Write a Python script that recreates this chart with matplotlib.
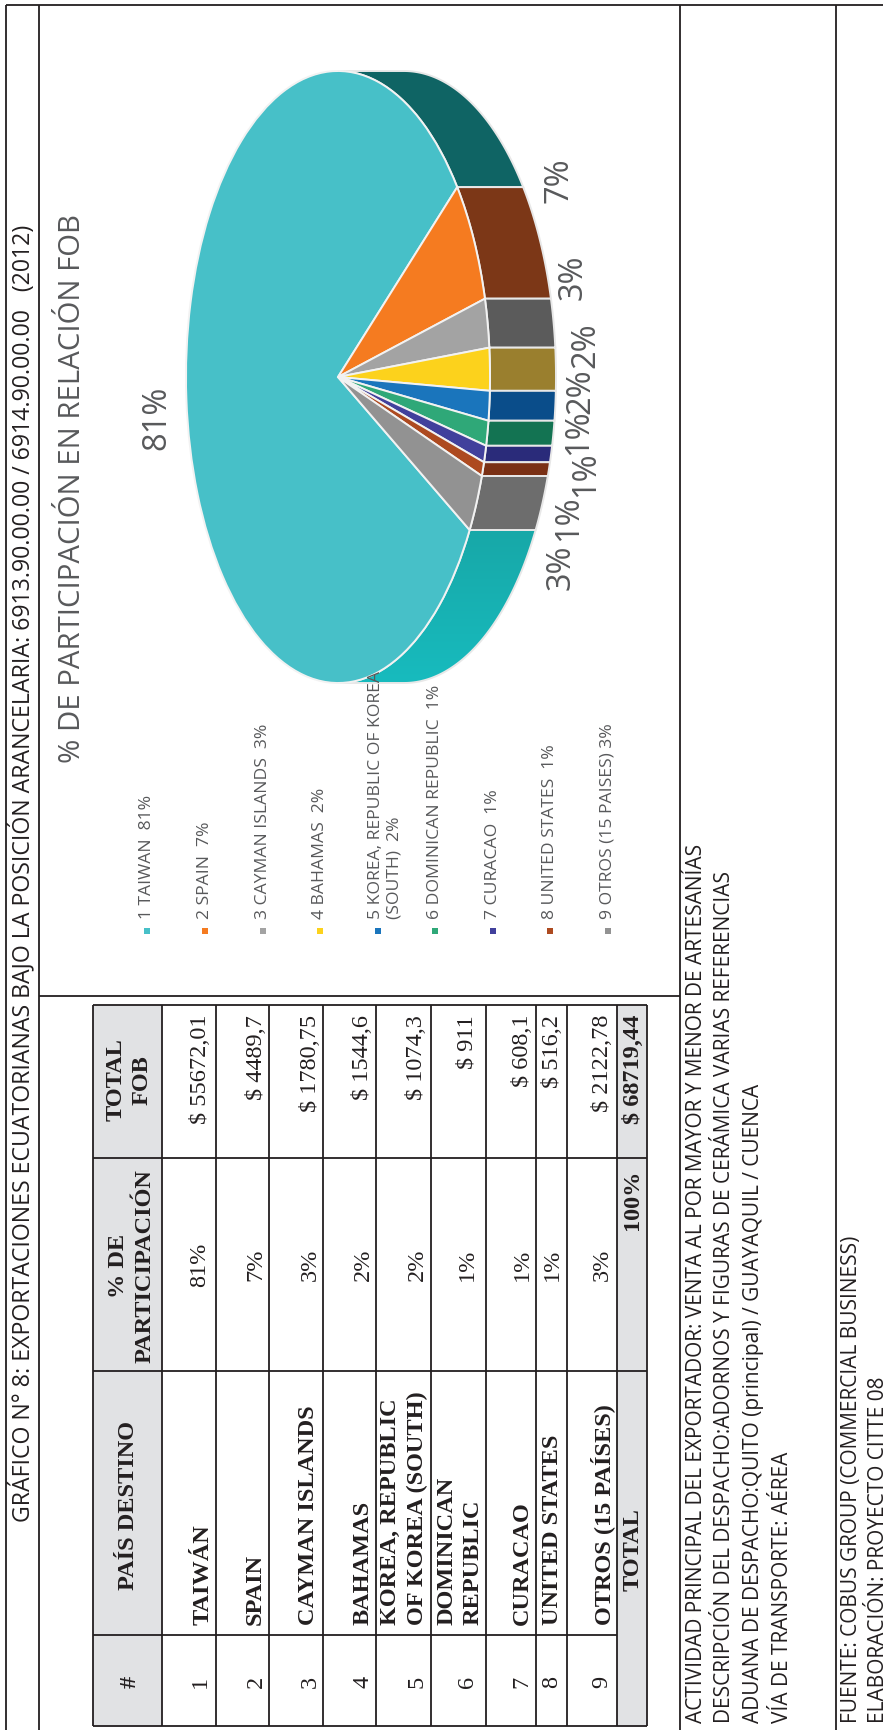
import numpy as np
import matplotlib
matplotlib.use("Agg")
import matplotlib.pyplot as plt
from matplotlib.patches import Polygon, Rectangle
from matplotlib.colors import LinearSegmentedColormap

W, H = 883, 1731
countries_legend = ["1 TAIWAN  81%", "2 SPAIN  7%", "3 CAYMAN ISLANDS  3%", "4 BAHAMAS  2%",
                    "5 KOREA, REPUBLIC OF KOREA\n(SOUTH)  2%", "6 DOMINICAN REPUBLIC  1%",
                    "7 CURACAO  1%", "8 UNITED STATES  1%", "9 OTROS (15 PAISES) 3%"]
fob = [55672.01, 4489.7, 1780.75, 1544.6, 1074.3, 911, 608.1, 516.2, 2122.78]
fob_txt = ["$ 55672,01", "$ 4489,7", "$ 1780,75", "$ 1544,6", "$ 1074,3", "$ 911", "$ 608,1", "$ 516,2", "$ 2122,78"]
pct_txt = ["81%", "7%", "3%", "2%", "2%", "1%", "1%", "1%", "3%"]
table_names = ["TAIWÁN", "SPAIN", "CAYMAN ISLANDS", "BAHAMAS", "KOREA, REPUBLIC\nOF KOREA (SOUTH)",
               "DOMINICAN\nREPUBLIC", "CURACAO", "UNITED STATES", "OTROS (15 PAÍSES)"]
top_colors = ["#47C0C8", "#F57B20", "#A3A3A3", "#FCD21C", "#1A75BC", "#2FA878", "#41409C", "#AD4A20", "#929292"]
rim_colors = ["#15AEB0", "#7C3717", "#5B5B5B", "#9A7F2E", "#0A4D8A", "#137352", "#2A2B7A", "#7A3015", "#6D6D6D"]
legend_colors = top_colors

SANS = "Open Sans"
SERIF = "Liberation Serif"
GREY = "#58595B"
INK = "#231F20"
TS = 17.5
LS = 1.32

fig = plt.figure(figsize=(W / 100, H / 100), dpi=100)
ax = fig.add_axes([0, 0, 1, 1], zorder=5)
ax.set_xlim(0, W)
ax.set_ylim(H, 0)
ax.axis("off")


def vtext(x, y, s, size, family=SANS, color=INK, weight="normal", va="bottom", ha="center", ma="left", ls=1.0):
    ax.text(x, y, s, rotation=90, fontsize=size, family=family, color=color, weight=weight,
            va=va, ha=ha, linespacing=ls, multialignment=ma)


def seg(x0, y0, x1, y1, lw=1.3, c="#231F20"):
    ax.plot([x0, x1], [y0, y1], color=c, lw=lw, solid_capstyle="butt")


# page frame
FL, FT = 6, 6
seg(FL, FT, W, FT)
seg(FL, FT, FL, H)
seg(39, FT, 39, H)
seg(680, FT, 680, H)
seg(836, FT, 836, H)
seg(39, 997, 680, 997)

# headers
vtext(22, 1522, "GRÁFICO N° 8: EXPORTACIONES ECUATORIANAS BAJO LA POSICIÓN ARANCELARIA: 6913.90.00.00 / 6914.90.00.00   (2012)", 16.7)
vtext(73, 763, "% DE PARTICIPACIÓN EN RELACIÓN FOB", 21.2, color=GREY)

# pie
cx, cy, rx, ry, depth = 338, 378, 152, 306, 66
pax = fig.add_axes([(cx - rx) / W, 1 - (cy + ry) / H, 2 * rx / W, 2 * ry / H], zorder=3)
pax.patch.set_alpha(0)
start = -30
shift = depth / rx
shares = np.array(fob) / np.sum(fob)
edges = start - 360 * np.concatenate([[0], np.cumsum(shares)])


def rim(a0, a1, **kw):
    t = np.radians(np.linspace(a0, a1, 80))
    xs, ys = np.cos(t), np.sin(t)
    poly = np.vstack([np.c_[xs, ys], np.c_[xs[::-1] + shift, ys[::-1]]])
    p = Polygon(poly, closed=True, ec="#E8E8E8", lw=1.4, clip_on=False, **kw)
    pax.add_patch(p)
    return p


# Taiwan's rim is visible on both sides of the other slices; its lower part has a soft gradient
low = rim(-90, edges[0], fc="none")
cmap = LinearSegmentedColormap.from_list("teal", ["#18BBBE", "#17A8A8"])
im = pax.imshow(np.linspace(0, 1, 100)[:, None], cmap=cmap, origin="lower", aspect="auto",
                extent=[-1, 1 + shift, -1, np.sin(np.radians(edges[0]))], zorder=0.5)
im.set_clip_path(low)
im.set_clip_box(fig.bbox)
rim(edges[1] + 360, 90, fc="#0F6464")
for i in range(1, len(fob)):
    rim(edges[i + 1], edges[i], fc=rim_colors[i])

pax.pie(fob, colors=top_colors, startangle=start, counterclock=False, radius=1,
        wedgeprops=dict(ec="#F2F2F2", lw=1.4), frame=False)
pax.set_aspect("auto")
pax.set_xlim(-1, 1)
pax.set_ylim(-1, 1)
pax.axis("off")
for c in pax.patches[:]:
    c.set_clip_on(False)

# percent labels around the pie
lab_x = [157, 559, 573, 586, 581, 579, 586, 569, 561]
lab_y = [418, 180, 277, 345, 391, 432, 474, 518, 567]
for s, x, y in zip(pct_txt, lab_x, lab_y):
    ax.text(x, y, s, rotation=90, fontsize=23.5, family=SANS, color=GREY, ha="center", va="center")

# legend
leg_x = [147, 205, 263, 320, 378, 435, 493, 550, 608]
for s, x, c in zip(countries_legend, leg_x, legend_colors):
    ax.add_patch(Rectangle((x - 3, 929), 6, 6, fc=c, ec="none"))
    two = "\n" in s
    ax.text(x - 10 if two else x, 919, s, rotation=90, fontsize=12.6, family=SANS, color=GREY,
            ha="left" if two else "center", va="bottom", linespacing=1.2, multialignment="left")

# table
tx = [92.7, 162, 216, 269, 323, 376, 431, 486, 536, 566.7, 617, 646.7]
ty = [1005.7, 1159, 1372, 1636, 1727.5]
ax.add_patch(Rectangle((tx[0], ty[0]), tx[1] - tx[0], ty[-1] - ty[0], fc="#E1E2E4", ec="none"))
ax.add_patch(Rectangle((tx[-2], ty[0]), tx[-1] - tx[-2], ty[-1] - ty[0], fc="#E1E2E4", ec="none"))
for x in tx:
    seg(x, ty[0], x, ty[-1])
for y in ty:
    seg(tx[0], y, tx[-2] if y == 1636 else tx[-1], y)

vtext(130, 1682, "#", TS, SERIF, INK, "bold", va="center")
vtext(129, 1506, "PAÍS DESTINO", TS, SERIF, INK, "bold", va="center")
vtext(132, 1266, "% DE\nPARTICIPACIÓN", TS, SERIF, INK, "bold", va="center", ma="center", ls=LS)
vtext(129, 1080, "TOTAL\nFOB", TS, SERIF, INK, "bold", va="center", ma="center", ls=LS)

name_x = [203, 255, 308, 363, 404, 460, 522, 552, 603]
val_x = [200, 256, 310, 363, 417, 467, 522, 552, 602]
for i in range(9):
    ax.text(val_x[i], 1682, str(i + 1), rotation=90, fontsize=TS, family=SERIF, color=INK, ha="center", va="center")
    ax.text(name_x[i], 1625, table_names[i], rotation=90, fontsize=TS, family=SERIF, color=INK, weight="bold",
            ha="center", va="bottom", linespacing=LS, multialignment="left")
    ax.text(val_x[i], 1265, pct_txt[i], rotation=90, fontsize=TS, family=SERIF, color=INK, ha="center", va="center")
    ax.text(val_x[i], 1015, fob_txt[i], rotation=90, fontsize=TS, family=SERIF, color=INK, ha="center", va="top")
ax.text(633, 1591, "TOTAL", rotation=90, fontsize=TS, family=SERIF, color=INK, weight="bold", ha="center", va="bottom")
ax.text(633, 1170, "100%", rotation=90, fontsize=TS, family=SERIF, color=INK, weight="bold", ha="center", va="top")
ax.text(633, 1015, "$ 68719,44", rotation=90, fontsize=TS, family=SERIF, color=INK, weight="bold", ha="center", va="top")

# notes
notes = ["ACTIVIDAD PRINCIPAL DEL EXPORTADOR: VENTA AL POR MAYOR Y MENOR DE ARTESANÍAS",
         "DESCRIPCIÓN DEL DESPACHO:ADORNOS Y FIGURAS DE CERÁMICA VARIAS REFERENCIAS",
         "ADUANA DE DESPACHO:QUITO (principal) / GUAYAQUIL / CUENCA",
         "VÍA DE TRANSPORTE: AÉREA"]
note_x = [696, 724, 753, 782]
for s, x in zip(notes, note_x):
    vtext(x, 1723, s, 15)
vtext(851, 1723, "FUENTE: COBUS GROUP (COMMERCIAL BUSINESS)", 15)
vtext(879, 1723, "ELABORACIÓN: PROYECTO CITTE 08", 15)

fig.savefig("out.png", dpi=100)
